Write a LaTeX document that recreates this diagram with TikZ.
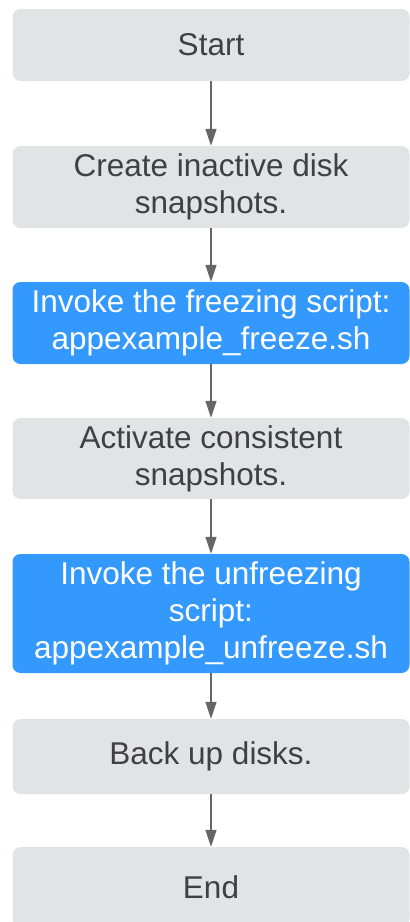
\documentclass[tikz,border=0pt]{standalone}
\usepackage{fontspec}
\setmainfont{Liberation Sans}
\usetikzlibrary{arrows.meta}
\definecolor{boxgray}{HTML}{E1E4E5}
\definecolor{boxblue}{HTML}{3399FF}
\definecolor{txtgray}{HTML}{404040}
\definecolor{arrgray}{HTML}{666666}
\tikzset{
  box/.style={rounded corners=8pt, inner sep=0pt, minimum width=397pt, align=center,
    font=\fontsize{31.5}{37}\selectfont},
  graybox/.style={box, fill=boxgray, text=txtgray},
  bluebox/.style={box, fill=boxblue, text=white},
  flow/.style={draw=arrgray, line width=1.5pt, -{Triangle[length=17pt,width=11pt]}}
}
\begin{document}
\begin{tikzpicture}[x=1pt,y=-1pt]
\useasboundingbox (0,0) rectangle (410,922);
\node[graybox, minimum height=72pt] (start) at (211,45) {Start};
\node[graybox, minimum height=82pt] (create) at (211,187) {Create inactive disk\\snapshots.};
\node[bluebox, minimum height=82pt] (freeze) at (211,323) {Invoke the freezing script:\\appexample\_freeze.sh};
\node[graybox, minimum height=81pt] (activate) at (211,458.5) {Activate consistent\\snapshots.};
\node[bluebox, minimum height=119pt] (unfreeze) at (211,613.5) {Invoke the unfreezing\\script:\\appexample\_unfreeze.sh};
\node[graybox, minimum height=75pt] (backup) at (211,756.5) {Back up disks.};
\node[graybox, minimum height=80pt] (end) at (211,887) {End};
\draw[flow] (start) -- (create);
\draw[flow] (create) -- (freeze);
\draw[flow] (freeze) -- (activate);
\draw[flow] (activate) -- (unfreeze);
\draw[flow] (unfreeze) -- (backup);
\draw[flow] (backup) -- (end);
\end{tikzpicture}
\end{document}
